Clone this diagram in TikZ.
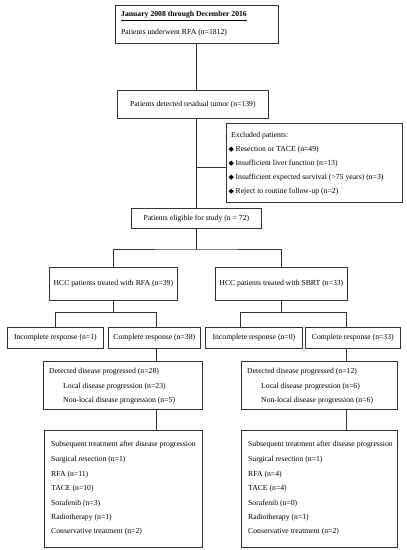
\documentclass[tikz,border=0pt]{standalone}
\usepackage{fontspec}
\setmainfont{Liberation Serif}
\newfontfamily\symfnt{DejaVu Sans}
\newcommand\bul{\raisebox{0.2pt}{\symfnt\fontsize{7}{8}\selectfont ◆}\hspace{1.6pt}}
\begin{document}
\begin{tikzpicture}[x=1pt,y=-1pt,
  box/.style={draw=black!80,line width=0.75pt,inner sep=0pt,anchor=north west,fill=none},
  txt/.style={anchor=west,inner sep=0pt,font=\fontsize{7.7}{9}\selectfont},
  ctxt/.style={anchor=center,inner sep=0pt,font=\fontsize{7.7}{9}\selectfont},
  conn/.style={draw=black!80,line width=0.75pt}]
\useasboundingbox (0,0) rectangle (407,550);
\fill[white] (0,0) rectangle (407,550);
% boxes (x1,y1,width,height)
\node[box,minimum width=163pt,minimum height=38pt] (top) at (115,5) {};
\node[box,minimum width=151pt,minimum height=28pt] (res) at (117,90) {};
\node[box,minimum width=176pt,minimum height=79pt] (excl) at (226,123) {};
\node[box,minimum width=130pt,minimum height=20pt] (elig) at (131,208) {};
\node[box,minimum width=128pt,minimum height=33pt] (rfa) at (49,267) {};
\node[box,minimum width=132pt,minimum height=33pt] (sbrt) at (215,267) {};
\node[box,minimum width=96pt,minimum height=21pt] (inc1) at (7,327) {};
\node[box,minimum width=92pt,minimum height=21pt] (comp1) at (108,327) {};
\node[box,minimum width=97pt,minimum height=21pt] (inc2) at (205,327) {};
\node[box,minimum width=95pt,minimum height=21pt] (comp2) at (305,327) {};
\node[box,minimum width=159pt,minimum height=48pt] (det1) at (43,361) {};
\node[box,minimum width=156pt,minimum height=48pt] (det2) at (241,361) {};
\node[box,minimum width=158pt,minimum height=117pt] (sub1) at (44,430) {};
\node[box,minimum width=156pt,minimum height=117pt] (sub2) at (241,430) {};
% texts
\node[txt] (t1a) at (121,16) {\underline{\textbf{January 2008 through December 2016}}};
\node[txt] (t1b) at (121,33) {Patients underwent RFA (n=1812)};
\node[ctxt] (t2) at (res.center) {Patients detected residual tumor (n=139)};
\node[txt] (e0) at (231,136) {Excluded patients:};
\node[txt] (e1) at (228.5,150) {\bul Resection or TACE (n=49)};
\node[txt] (e2) at (228.5,164) {\bul Insufficient liver function (n=13)};
\node[txt] (e3) at (228.5,178) {\bul Insufficient expected survival (>75 years) (n=3)};
\node[txt] (e4) at (228.5,192) {\bul Reject to routine follow-up (n=2)};
\node[ctxt] (t3) at (elig.center) {Patients eligible for study (n = 72)};
\node[ctxt] (t4) at (rfa.center) {HCC patients treated with RFA (n=39)};
\node[ctxt] (t5) at (sbrt.center) {HCC patients treated with SBRT (n=33)};
\node[ctxt] (t6) at (inc1.center) {Incomplete response (n=1)};
\node[ctxt] (t7) at (comp1.center) {Complete response (n=38)};
\node[ctxt] (t8) at (inc2.center) {Incomplete response (n=0)};
\node[ctxt] (t9) at (comp2.center) {Complete response (n=33)};
\node[txt] (d1a) at (49,372) {Detected disease progressed (n=28)};
\node[txt] (d1b) at (63,387) {Local disease progression (n=23)};
\node[txt] (d1c) at (63,401) {Non-local disease progression (n=5)};
\node[txt] (d2a) at (247,372) {Detected disease progressed (n=12)};
\node[txt] (d2b) at (261,387) {Local disease progression (n=6)};
\node[txt] (d2c) at (261,401) {Non-local disease progression (n=6)};
\node[txt] (s1a) at (51,445) {Subsequent treatment after disease progression};
\node[txt] (s1b) at (51,460) {Surgical resection (n=1)};
\node[txt] (s1c) at (51,474.5) {RFA (n=11)};
\node[txt] (s1d) at (51,489) {TACE (n=10)};
\node[txt] (s1e) at (51,503.5) {Sorafenib (n=3)};
\node[txt] (s1f) at (51,518) {Radiotherapy (n=1)};
\node[txt] (s1g) at (51,532) {Conservative treatment (n=2)};
\node[txt] (s2a) at (248,445) {Subsequent treatment after disease progression};
\node[txt] (s2b) at (248,460) {Surgical resection (n=1)};
\node[txt] (s2c) at (248,474.5) {RFA (n=4)};
\node[txt] (s2d) at (248,489) {TACE (n=4)};
\node[txt] (s2e) at (248,503.5) {Sorafenib (n=0)};
\node[txt] (s2f) at (248,518) {Radiotherapy (n=1)};
\node[txt] (s2g) at (248,532) {Conservative treatment (n=2)};
% connectors
\coordinate (vx) at (196,0);
\draw[conn] (top.south -| vx) -- (res.north -| vx);
\draw[conn] (res.south -| vx) -- (elig.north -| vx);
\coordinate (exj) at (196,167);
\draw[conn] (exj) -- (exj -| excl.west);
\coordinate (sp) at (196,249);
\draw[conn] (elig.south -| vx) -- (sp);
\draw[conn] (rfa.north) |- (sp) -| (sbrt.north);
\coordinate (l1) at (55,312);
\coordinate (r1) at (156,312);
\draw[conn] (rfa.south) -- (rfa.south |- l1);
\draw[conn] (inc1.north -| l1) |- (r1) -- (comp1.north -| r1);
\coordinate (l2) at (240,312);
\coordinate (r2) at (346,312);
\draw[conn] (sbrt.south) -- (sbrt.south |- l2);
\draw[conn] (inc2.north -| l2) |- (r2) -- (comp2.north -| r2);
\draw[conn] (comp1.south -| r1) -- (det1.north -| r1);
\draw[conn] (comp2.south -| r2) -- (det2.north -| r2);
\draw[conn] (det1.south -| r1) -- (sub1.north -| r1);
\draw[conn] (det2.south -| r2) -- (sub2.north -| r2);
\end{tikzpicture}
\end{document}
